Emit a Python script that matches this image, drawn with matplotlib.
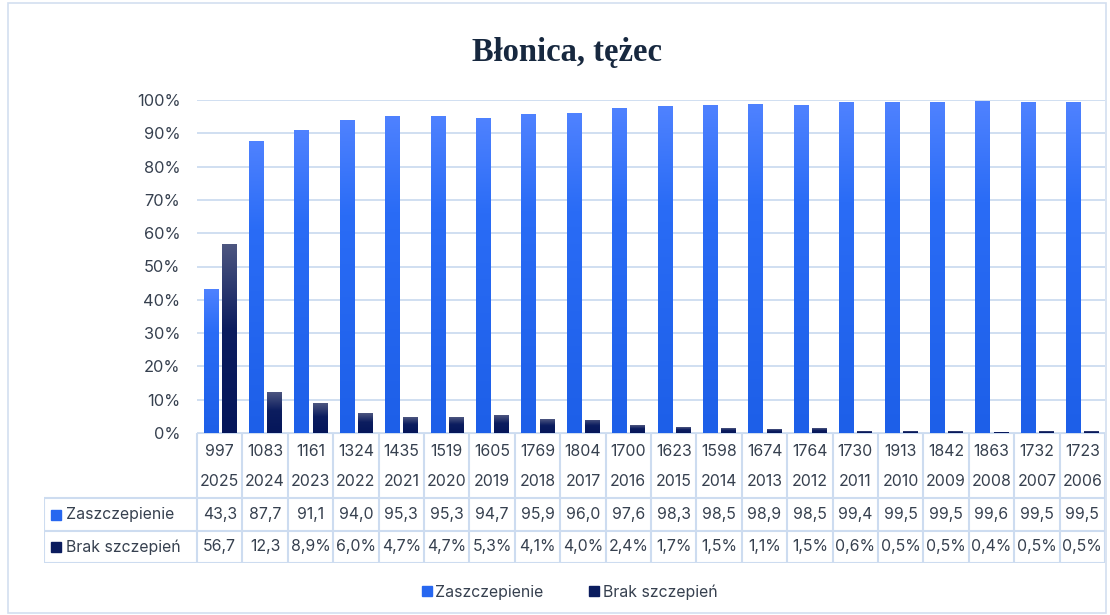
import numpy as np
import matplotlib.pyplot as plt
from matplotlib.colors import LinearSegmentedColormap
from matplotlib.lines import Line2D
from matplotlib.patches import Rectangle

years = [2025, 2024, 2023, 2022, 2021, 2020, 2019, 2018, 2017, 2016,
         2015, 2014, 2013, 2012, 2011, 2010, 2009, 2008, 2007, 2006]
counts = [997, 1083, 1161, 1324, 1435, 1519, 1605, 1769, 1804, 1700,
          1623, 1598, 1674, 1764, 1730, 1913, 1842, 1863, 1732, 1723]
vaccinated = [43.3, 87.7, 91.1, 94.0, 95.3, 95.3, 94.7, 95.9, 96.0, 97.6,
              98.3, 98.5, 98.9, 98.5, 99.4, 99.5, 99.5, 99.6, 99.5, 99.5]
unvaccinated = [56.7, 12.3, 8.9, 6.0, 4.7, 4.7, 5.3, 4.1, 4.0, 2.4,
                1.7, 1.5, 1.1, 1.5, 0.6, 0.5, 0.5, 0.4, 0.5, 0.5]
series = ["Zaszczepienie", "Brak szczepień"]
title = "Błonica, tężec"

W, H = 1110, 615
FONT = ["Inter", "DejaVu Sans"]
TXT = "#36404f"
GRID = "#cddcf0"
BLUE = "#2767f0"
NAVY = "#0b1c5e"

plt.rcParams['font.family'] = FONT
fig = plt.figure(figsize=(W / 100, H / 100), dpi=100)


def box(x0, y0, x1, y1):
    return fig.add_axes([x0 / W, 1 - y1 / H, (x1 - x0) / W, (y1 - y0) / H])


def gradient_bars(ax, x, h, width, colors):
    bars = ax.bar(x, h, width, color="none", edgecolor="none")
    grad = np.linspace(0, 1, 128).reshape(-1, 1)
    cmap = LinearSegmentedColormap.from_list("g", colors)
    for b in bars:
        x0, y0 = b.get_x(), b.get_y()
        im = ax.imshow(grad, cmap=cmap, origin="lower", aspect="auto", zorder=2,
                       extent=[x0, x0 + b.get_width(), y0, y0 + b.get_height()])
        im.set_clip_path(b)


# outer frame
fig.patches.append(Rectangle((8 / W, 2 / H), 1098 / W, 610 / H, transform=fig.transFigure,
                             fill=False, edgecolor="#d3dff0", lw=1.2))

fig.text(567 / W, 1 - 52 / H, title, ha="center", va="center", fontsize=23.5,
         fontweight="bold", family="Liberation Serif", color="#17283f")

# main chart
ax = box(197, 100, 1105, 433)
x = np.arange(len(years))
v = np.array(vaccinated) / 100
u = np.array(unvaccinated) / 100
gradient_bars(ax, x - 0.2, v, 0.31, [(0, "#1d5fe8"), (0.7, "#2a6cf6"), (1, "#4f82ff")])
gradient_bars(ax, x + 0.2, u, 0.31, [(0, "#05165a"), (0.55, "#0c1d5f"), (1, "#4d5680")])
ax.set_xlim(-0.5, len(years) - 0.5)
ax.set_ylim(0, 1)
ax.set_yticks(np.arange(0, 1.01, 0.1))
ax.set_yticklabels(["%d%%" % round(t * 100) for t in np.arange(0, 1.01, 0.1)])
ax.tick_params(axis="y", length=0, pad=12, labelsize=11.8, labelcolor=TXT)
ax.set_xticks([])
ax.grid(axis="y", color=GRID, lw=1.3)
ax.set_axisbelow(True)
for s in ax.spines.values():
    s.set_visible(False)

# data table
px_per_unit = (1105 - 197) / len(years)
left = -0.5 - (197 - 44) / px_per_unit
tax = box(44, 433, 1105, 563)
tax.set_xlim(left, len(years) - 0.5)
tax.set_ylim(130, 0)
tax.axis("off")
lc = dict(color=GRID, lw=1.5, solid_capstyle="butt")
tax.plot([-0.5, len(years) - 0.5], [0, 0], **lc)
for yy in (65, 98, 130):
    tax.plot([left, len(years) - 0.5], [yy, yy], **lc)
for i in range(len(years) + 1):
    tax.plot([i - 0.5, i - 0.5], [0, 130], **lc)
tax.plot([left, left], [65, 130], **lc)


def pct(val, always):
    s = ("%.1f" % val).replace(".", ",")
    return s + "%" if (always and val < 10) else s


fs = 11.4
for i in range(len(years)):
    tax.text(i, 19, str(counts[i]), ha="center", va="center", fontsize=fs, color=TXT)
    tax.text(i, 49, str(years[i]), ha="center", va="center", fontsize=fs, color=TXT)
    tax.text(i, 81.5, pct(vaccinated[i], False), ha="center", va="center", fontsize=fs, color=TXT)
    tax.text(i, 114, pct(unvaccinated[i], True), ha="center", va="center", fontsize=fs, color=TXT)

lx = left + 12 / px_per_unit
for yy, name, col in ((81.5, series[0], BLUE), (114, series[1], NAVY)):
    tax.plot([lx], [yy], marker="s", ms=6.5, color=col, clip_on=False)
    tax.text(lx + 10 / px_per_unit, yy, name, ha="left", va="center", fontsize=fs, color=TXT)

handles = [Line2D([], [], ls="none", marker="s", ms=7.5, color=c) for c in (BLUE, NAVY)]
fig.legend(handles, series, loc="center", bbox_to_anchor=(569 / W, 1 - 592 / H), ncol=2,
           frameon=False, fontsize=fs, labelcolor=TXT, handletextpad=0.15, columnspacing=2.8,
           handlelength=0.8)

fig.savefig("out.png", dpi=100)
